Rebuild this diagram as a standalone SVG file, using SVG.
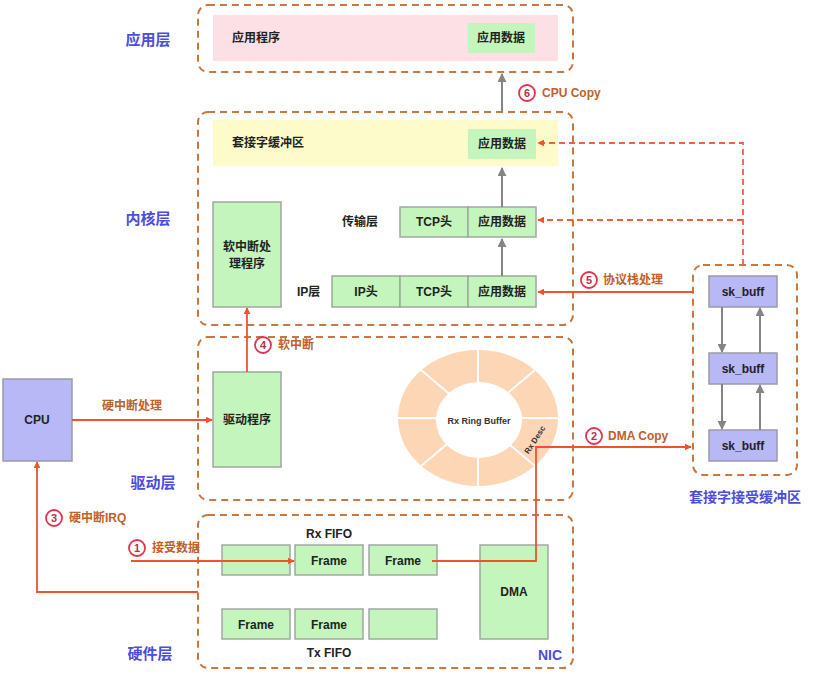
<svg xmlns="http://www.w3.org/2000/svg" width="814" height="674" viewBox="0 0 814 674">
<style>
text{font-family:"Liberation Sans","Noto Sans CJK SC",sans-serif;font-weight:bold;}
.layer{fill:none;stroke:#c8773f;stroke-width:2;stroke-dasharray:7 5;}
.g{fill:#c3f5bd;stroke:#a0a8a0;stroke-width:1.5;}
.gn{fill:#c3f5bd;}
.p{fill:#b8b8f6;stroke:#9a9aa8;stroke-width:1.5;}
.t{font-size:12px;fill:#222;text-anchor:middle;dominant-baseline:central;}
.ts{font-size:12px;fill:#222;dominant-baseline:central;}
.lbl{font-size:15px;fill:#4d4ddc;text-anchor:middle;dominant-baseline:central;}
.ol{font-size:12px;fill:#c0602a;dominant-baseline:central;}
.red{fill:none;stroke:#f0532c;stroke-width:1.8;}
.redd{fill:none;stroke:#f0603a;stroke-width:1.8;stroke-dasharray:6 4;}
.gray{fill:none;stroke:#858585;stroke-width:2;}
.circ{fill:#fff;stroke:#e0334f;stroke-width:1.8;}
.num{font-size:11px;fill:#b8323e;text-anchor:middle;dominant-baseline:central;}
</style>
<defs>
<marker id="ar" viewBox="0 0 10 10" refX="9" refY="5" markerWidth="7" markerHeight="7" orient="auto-start-reverse" markerUnits="userSpaceOnUse"><path d="M0,0 L10,5 L0,10 z" fill="#f0532c"/></marker>
<marker id="ag" viewBox="0 0 10 10" refX="9" refY="5" markerWidth="9" markerHeight="9" orient="auto" markerUnits="userSpaceOnUse"><path d="M0,0 L10,5 L0,10 z" fill="#858585"/></marker>
</defs>

<g id="layer-app">
<rect class="layer" x="198" y="5" width="375" height="67" rx="10"/>
<rect x="213" y="15" width="345" height="46" fill="#fde0e5"/>
<text class="ts" x="232" y="38">应用程序</text>
<rect class="gn" x="468" y="23" width="67" height="30"/>
<text class="t" x="501" y="38">应用数据</text>
<text class="lbl" x="148" y="39">应用层</text>
</g>

<g id="layer-kernel">
<rect class="layer" x="198" y="112" width="375" height="213" rx="10"/>
<rect x="213" y="120" width="345" height="46" fill="#fdfbca"/>
<text class="ts" x="232" y="143">套接字缓冲区</text>
<rect class="gn" x="468" y="129" width="68" height="30"/>
<text class="t" x="502" y="144">应用数据</text>
<text class="lbl" x="148" y="218">内核层</text>
</g>

<g id="softirq-handler">
<rect class="g" x="213" y="202" width="68" height="105"/>
<text class="t" x="247" y="247">软中断处</text>
<text class="t" x="247" y="264">理程序</text>
</g>

<g id="transport">
<text class="ts" x="342" y="222">传输层</text>
<rect class="g" x="400" y="207" width="68" height="30"/>
<text class="t" x="434" y="222">TCP头</text>
<rect class="g" x="468" y="207" width="68" height="30"/>
<text class="t" x="502" y="222">应用数据</text>
</g>

<g id="ip">
<text class="ts" x="297" y="292">IP层</text>
<rect class="g" x="332" y="276" width="68" height="31"/>
<text class="t" x="366" y="292">IP头</text>
<rect class="g" x="400" y="276" width="68" height="31"/>
<text class="t" x="434" y="292">TCP头</text>
<rect class="g" x="468" y="276" width="68" height="31"/>
<text class="t" x="502" y="292">应用数据</text>
</g>

<g id="layer-driver">
<rect class="layer" x="198" y="337" width="375" height="163" rx="10"/>
<text class="lbl" x="153" y="482">驱动层</text>
</g>

<g id="driver">
<rect class="g" x="213" y="372" width="68" height="95"/>
<text class="t" x="247" y="420">驱动程序</text>
</g>

<g id="ring">
<ellipse cx="478" cy="418" rx="80" ry="68" fill="#fdd6b6"/>
<g stroke="#fff" stroke-width="2">
<line x1="398" y1="418" x2="558" y2="418"/>
<line x1="478" y1="350" x2="478" y2="486"/>
<line x1="421" y1="370" x2="535" y2="466"/>
<line x1="535" y1="370" x2="421" y2="466"/>
</g>
<ellipse cx="479" cy="420" rx="43" ry="38" fill="#fff"/>
<text x="479" y="421" font-size="9" fill="#333" text-anchor="middle" dominant-baseline="central">Rx Ring Buffer</text>
<text x="535" y="440" font-size="8" fill="#333" text-anchor="middle" dominant-baseline="central" transform="rotate(-57 535 440)">Rx Desc</text>
</g>

<g id="cpu">
<rect class="p" x="3" y="379" width="69" height="82"/>
<text class="t" x="37" y="420">CPU</text>
</g>

<g id="layer-hw">
<rect class="layer" x="198" y="515" width="375" height="153" rx="10"/>
<text class="lbl" x="150" y="653">硬件层</text>
<text x="562" y="655" font-size="14" fill="#4d4ddc" text-anchor="end" dominant-baseline="central" font-weight="normal">NIC</text>
</g>

<g id="rx-fifo">
<text class="t" x="329" y="534">Rx FIFO</text>
<rect class="g" x="222" y="545" width="68" height="30"/>
<rect class="g" x="295" y="545" width="68" height="30"/>
<text class="t" x="329" y="561">Frame</text>
<rect class="g" x="369" y="545" width="68" height="30"/>
<text class="t" x="403" y="561">Frame</text>
</g>

<g id="tx-fifo">
<rect class="g" x="222" y="609" width="68" height="30"/>
<text class="t" x="256" y="625">Frame</text>
<rect class="g" x="295" y="609" width="68" height="30"/>
<text class="t" x="329" y="625">Frame</text>
<rect class="g" x="369" y="609" width="68" height="30"/>
<text class="t" x="329" y="653">Tx FIFO</text>
</g>

<g id="dma">
<rect class="g" x="480" y="545" width="68" height="94"/>
<text class="t" x="514" y="592">DMA</text>
</g>

<g id="sock-recv-buf">
<rect class="layer" x="693" y="265" width="104" height="210" rx="10"/>
<text x="745" y="497" font-size="14" fill="#4d4ddc" text-anchor="middle" dominant-baseline="central">套接字接受缓冲区</text>
</g>
<g id="skb1"><rect class="p" x="709" y="276" width="68" height="31"/><text class="t" x="743" y="292">sk_buff</text></g>
<g id="skb2"><rect class="p" x="709" y="353" width="68" height="31"/><text class="t" x="743" y="369">sk_buff</text></g>
<g id="skb3"><rect class="p" x="709" y="430" width="68" height="31"/><text class="t" x="743" y="446">sk_buff</text></g>

<g id="connectors">
<line class="gray" x1="502" y1="111" x2="502" y2="74" marker-end="url(#ag)"/>
<line class="gray" x1="502" y1="207" x2="502" y2="168" marker-end="url(#ag)"/>
<line class="gray" x1="502" y1="276" x2="502" y2="239" marker-end="url(#ag)"/>
<line class="gray" x1="722" y1="307" x2="722" y2="352" marker-end="url(#ag)"/>
<line class="gray" x1="760" y1="353" x2="760" y2="308" marker-end="url(#ag)"/>
<line class="gray" x1="722" y1="384" x2="722" y2="429" marker-end="url(#ag)"/>
<line class="gray" x1="760" y1="430" x2="760" y2="385" marker-end="url(#ag)"/>

<polyline class="redd" points="743,265 743,143 538,143" marker-end="url(#ar)"/>
<line class="redd" x1="743" y1="220" x2="538" y2="220" marker-end="url(#ar)"/>
<line class="red" x1="693" y1="292" x2="538" y2="292" marker-end="url(#ar)"/>
<line class="red" x1="247" y1="372" x2="247" y2="308" marker-end="url(#ar)"/>
<line class="red" x1="72" y1="420" x2="212" y2="420" marker-end="url(#ar)"/>
<polyline class="red" points="198,592 37,592 37,462" marker-end="url(#ar)"/>
<line class="red" x1="131" y1="561" x2="294" y2="561" marker-end="url(#ar)"/>
<polyline class="red" points="432,561 536,561 536,447 691,447" marker-end="url(#ar)"/>

<circle class="circ" cx="527" cy="93" r="8"/><text class="num" x="527" y="93">6</text>
<text class="ol" x="542" y="93" font-weight="normal">CPU Copy</text>
<circle class="circ" cx="589" cy="280" r="8"/><text class="num" x="589" y="280">5</text>
<text class="ol" x="603" y="280">协议栈处理</text>
<circle class="circ" cx="263" cy="345" r="8"/><text class="num" x="263" y="345">4</text>
<text class="ol" x="278" y="345">软中断</text>
<text class="ol" x="102" y="406">硬中断处理</text>
<circle class="circ" cx="594" cy="436" r="8"/><text class="num" x="594" y="436">2</text>
<text class="ol" x="608" y="436" font-weight="normal">DMA Copy</text>
<circle class="circ" cx="54" cy="518" r="8"/><text class="num" x="54" y="518">3</text>
<text class="ol" x="69" y="518">硬中断IRQ</text>
<circle class="circ" cx="137" cy="548" r="8"/><text class="num" x="137" y="548">1</text>
<text class="ol" x="152" y="548">接受数据</text>
</g>
</svg>
